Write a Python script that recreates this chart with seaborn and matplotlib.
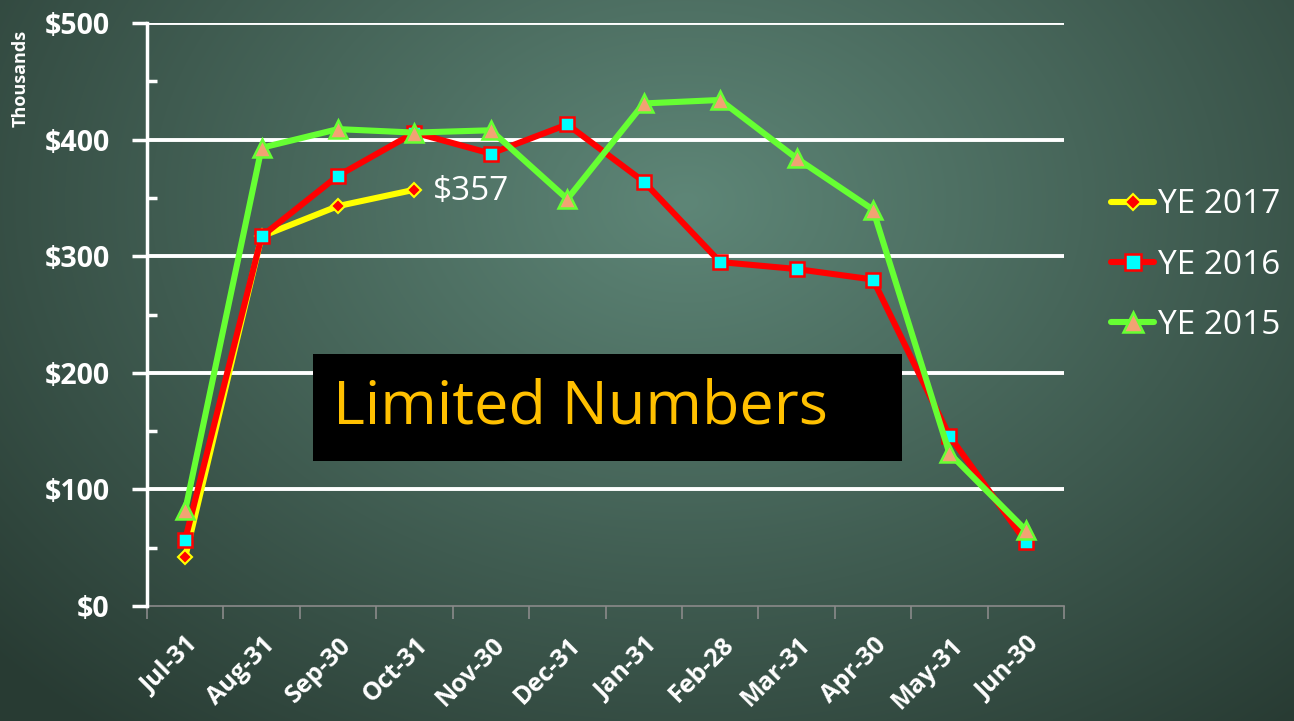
import numpy as np
import pandas as pd
import matplotlib
matplotlib.use("Agg")
import matplotlib.pyplot as plt
import matplotlib.transforms as mtransforms
import seaborn as sns
from matplotlib.lines import Line2D

months = ["Jul-31", "Aug-31", "Sep-30", "Oct-31", "Nov-30", "Dec-31",
          "Jan-31", "Feb-28", "Mar-31", "Apr-30", "May-31", "Jun-30"]
ye2017 = [42, 317, 343, 357]
ye2016 = [57, 317, 369, 406, 388, 413, 364, 295, 289, 280, 146, 55]
ye2015 = [82, 393, 409, 406, 408, 349, 431, 434, 384, 340, 131, 65]
yticks = [0, 100, 200, 300, 400, 500]
ytick_labels = ["$0", "$100", "$200", "$300", "$400", "$500"]

sns.set_theme(style="white")
plt.rcParams["font.family"] = ["Open Sans", "DejaVu Sans"]

fig = plt.figure(figsize=(12.94, 7.21), dpi=100)

# background radial gradient
bg = fig.add_axes([0, 0, 1, 1], zorder=-10)
W, H = 1294, 721
xx, yy = np.meshgrid(np.linspace(0, 1, W), np.linspace(0, 1, H))
r = np.sqrt(((xx - 0.53) / 0.72) ** 2 + ((yy - 0.28) / 0.95) ** 2)
r = np.clip(r, 0, 1)
c_in = np.array([0x5e, 0x86, 0x77]) / 255
c_out = np.array([0x28, 0x3b, 0x33]) / 255
img = c_in[None, None, :] * (1 - r[..., None]) + c_out[None, None, :] * r[..., None]
bg.imshow(img, aspect="auto", extent=[0, 1, 0, 1], origin="upper")
bg.axis("off")

ax = fig.add_axes([147 / W, (721 - 606) / H, (1064 - 147) / W, (606 - 23) / H])
ax.patch.set_alpha(0)

rows = []
for name, vals in [("YE 2017", ye2017), ("YE 2016", ye2016), ("YE 2015", ye2015)]:
    for i, v in enumerate(vals):
        rows.append({"series": name, "x": i, "value": v})
df = pd.DataFrame(rows)

for y in yticks[1:]:
    ax.axhline(y, color="white", lw=2.8, zorder=1)

styles = {
    "YE 2017": dict(color="#FFFF00", marker="D", ms=7, mfc="#FF0000", mec="#FFFF00", mew=1.5),
    "YE 2016": dict(color="#FF0000", marker="s", ms=10, mfc="#00FFFF", mec="#FF0000", mew=1.8),
    "YE 2015": dict(color="#66FF33", marker="^", ms=13, mfc="#F2A273", mec="#66FF33", mew=1.8),
}
handles = []
for z, name in enumerate(["YE 2017", "YE 2016", "YE 2015"]):
    st = styles[name]
    sub = df[df.series == name]
    sns.lineplot(data=sub, x="x", y="value", ax=ax, color=st["color"], lw=4.4,
                 marker=st["marker"], markersize=st["ms"], markerfacecolor=st["mfc"],
                 markeredgecolor=st["mec"], markeredgewidth=st["mew"], zorder=3 + z,
                 legend=False)
    handles.append(Line2D([], [], color=st["color"], lw=4.4, marker=st["marker"],
                          markersize=st["ms"] + 1, markerfacecolor=st["mfc"],
                          markeredgecolor=st["mec"], markeredgewidth=st["mew"], label=name))

ax.set_xlim(-0.5, 11.5)
ax.set_ylim(0, 500)
ax.set_xlabel("")
ax.set_ylabel("")

ax.set_yticks(yticks)
ax.set_yticklabels(ytick_labels, fontsize=20.5, fontweight="bold", color="white")
ax.set_yticks([50, 150, 250, 350, 450], minor=True)
ax.tick_params(axis="y", which="major", direction="out", length=11, width=2.5,
               color="white", pad=16, left=True)
ax.tick_params(axis="y", which="minor", direction="in", length=7, width=2.5,
               color="white", left=True)

ax.set_xticks(range(12))
ax.set_xticklabels(months, rotation=45, ha="right", rotation_mode="anchor",
                   fontsize=18, fontweight="bold", color="white")
ax.set_xticks(np.arange(-0.5, 12, 1), minor=True)
ax.tick_params(axis="x", which="major", length=0, pad=19)
ax.tick_params(axis="x", which="minor", direction="out", length=9, width=1.2,
               color="#8a8a8a", bottom=True)
offset = mtransforms.ScaledTranslation(1 / 100, 0, fig.dpi_scale_trans)
for lbl in ax.get_xticklabels():
    lbl.set_transform(lbl.get_transform() + offset)

for s in ["top", "right"]:
    ax.spines[s].set_visible(False)
ax.spines["left"].set_color("white")
ax.spines["left"].set_linewidth(2.5)
ax.spines["left"].set_zorder(6)
ax.spines["bottom"].set_color("#8a8a8a")
ax.spines["bottom"].set_linewidth(1.2)

fig.text(21 / W, 1 - 78 / H, "Thousands", rotation=90, ha="center", va="center",
         fontsize=13, fontweight="bold", color="white")

ax.annotate(f"${ye2017[-1]}", xy=(len(ye2017) - 1, ye2017[-1]), xytext=(13, -1),
            textcoords="offset points", ha="left", va="center", fontsize=24,
            color="white", zorder=8)

fig.patches.append(matplotlib.patches.Rectangle((313 / W, 1 - 461 / H), (902 - 313) / W,
                                                 (461 - 354) / H, transform=fig.transFigure,
                                                 facecolor="black", edgecolor="none", zorder=9))
fig.text(333 / W, 1 - 408 / H, "Limited Numbers", ha="left", va="center",
         fontsize=44, color="#FFC000", zorder=10)

leg = fig.legend(handles=handles, loc="center left", bbox_to_anchor=(1111 / W, 1 - 265 / H),
                 frameon=False, fontsize=24, handlelength=1.3, handletextpad=0.12,
                 labelspacing=0.82, labelcolor="white", borderpad=0, borderaxespad=0)

fig.savefig("out.png", dpi=100)
